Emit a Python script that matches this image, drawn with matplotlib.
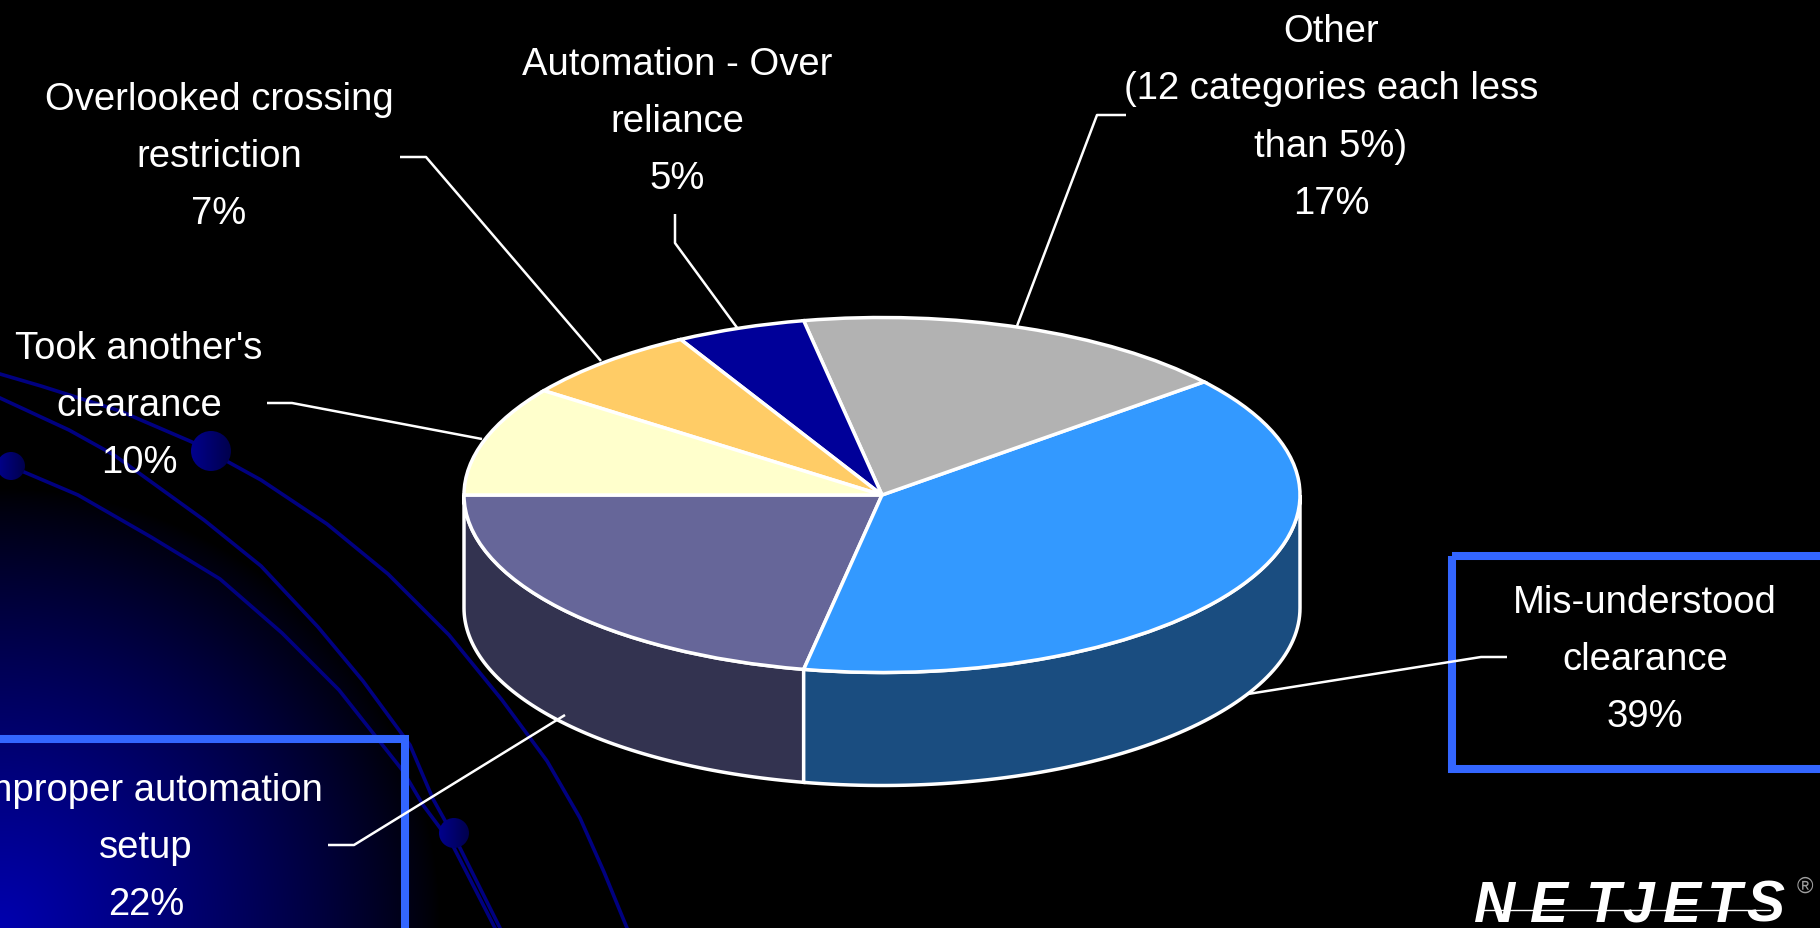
import numpy as np
import matplotlib
matplotlib.use('Agg')
import matplotlib.pyplot as plt
from matplotlib.patches import Circle, Rectangle

W, H = 1820, 929

# slices, counterclockwise starting from the left of the pie
labels = ['Improper automation\nsetup', 'Mis-understood\nclearance',
          'Other\n(12 categories each less\nthan 5%)', 'Automation - Over\nreliance',
          'Overlooked crossing\nrestriction', "Took another's\nclearance"]
values = [22, 39, 17, 5, 7, 10]
top_colors = ['#666699', '#3399FF', '#B2B2B2', '#000099', '#FFCC66', '#FFFFCC']
side_colors = ['#333350', '#1A4D80']

# label centres and leader lines, in pixels
label_pos = [(146, 848), (1645, 660), (1331, 118), (677, 122), (219, 157), (139, 406)]
leaders = [[(328, 846), (354, 846), (565, 716)],
           [(1507, 658), (1481, 658), (1248, 695)],
           [(1126, 116), (1097, 116), (1017, 327)],
           [(675, 215), (675, 244), (738, 330)],
           [(400, 158), (426, 158), (601, 362)],
           [(267, 404), (292, 404), (482, 440)]]

# background orbit lines
orbit_a = [(0, 375), (41, 387), (120, 412), (192, 443), (261, 481), (327, 525), (388, 575),
           (449, 636), (502, 701), (547, 762), (580, 819), (604, 873), (627, 929)]
orbit_b = [(0, 399), (69, 431), (114, 456), (204, 521), (261, 567), (318, 628), (363, 682),
           (410, 746), (433, 800), (458, 845), (500, 929)]
orbit_c = [(24, 473), (78, 496), (151, 538), (220, 580), (282, 634), (339, 691), (403, 772),
           (423, 806), (452, 845), (495, 929)]
dots = [(211, 452, 20), (11, 467, 14), (454, 834, 15)]

plt.rcParams['font.family'] = ['Liberation Sans']

fig = plt.figure(figsize=(W / 100, H / 100), dpi=100, facecolor='black')

# background, pixel coords
bg = fig.add_axes([0, 0, 1, 1])
bg.axis('off')
yy, xx = np.mgrid[0:H, 0:W]
r = np.hypot(xx, yy - H) / 440
fade = np.clip(1 - r, 0, 1) ** 0.8
grad = np.zeros((H, W, 3))
grad[..., 2] = 0.686 * fade
bg.imshow(grad, extent=(0, W, H, 0), aspect='auto', zorder=0)
for orbit in (orbit_a, orbit_b, orbit_c):
    bg.plot(*zip(*orbit), color='#000080', lw=2.6, zorder=1)
for x, y, rad in dots:
    # darker towards the right
    shade = np.linspace(0.55, 0.3, 32).reshape(1, -1, 1) * np.array([0, 0, 1.0])
    im = bg.imshow(shade, extent=(x - rad, x + rad, y + rad, y - rad), aspect='auto', zorder=2)
    im.set_clip_path(Circle((x, y), rad, transform=bg.transData))
bg.set_xlim(0, W)
bg.set_ylim(H, 0)

# pie, ellipse comes from the axes limits
cx, cy, rx, ry, depth = 882, 496, 418, 177.5, 113
ax = fig.add_axes([0, 0, 1, 1], zorder=1)
ax.patch.set_alpha(0)
wedges, _ = ax.pie(values, colors=top_colors, startangle=180, counterclock=True,
                   wedgeprops=dict(edgecolor='white', linewidth=2.5, zorder=3))
ax.set_aspect('auto')
ax.set_xlim(-cx / rx, (W - cx) / rx)
ax.set_ylim(-(H - cy) / ry, cy / ry)
d = depth / ry
for w, c in zip(wedges[:2], side_colors):
    t = np.radians(np.linspace(w.theta1, min(w.theta2, 360), 80))
    xs = np.cos(t)
    ys = np.sin(t)
    ax.fill(np.r_[xs, xs[::-1]], np.r_[ys, ys[::-1] - d], facecolor=c, edgecolor='white',
            lw=2.5, zorder=2)

# text, leaders, boxes, pixel coords
top = fig.add_axes([0, 0, 1, 1], zorder=2)
top.patch.set_alpha(0)
top.set_xlim(0, W)
top.set_ylim(H, 0)
top.axis('off')
for line in leaders:
    top.plot(*zip(*line), color='white', lw=1.8, solid_capstyle='butt')
for lab, val, (x, y) in zip(labels, values, label_pos):
    top.text(x, y, f'{lab}\n{val}%', color='white', ha='center', va='center', fontsize=27.5,
             linespacing=1.76)
top.add_patch(Rectangle((-20, 740), 425, 240, fill=False, ec='#3366FF', lw=5.8, joinstyle='miter'))
top.add_patch(Rectangle((1452, 557), 420, 213, fill=False, ec='#3366FF', lw=5.8, joinstyle='miter'))

# logo
logo_x = [1495, 1549, 1603, 1638, 1682, 1724, 1765]
for ch, x in zip('NETJETS', logo_x):
    top.text(x, 922, ch, color='white', ha='center', va='baseline', fontsize=41, fontweight='bold',
             fontstyle='italic', family=['Liberation Sans'])
top.plot([1483, 1770], [911, 911], color='black', lw=3.5)
top.plot([1483, 1770], [911, 911], color='white', lw=1)
top.text(1805, 887, '®', color='#A0A0A0', ha='center', va='center', fontsize=16,
         family=['Liberation Sans'])

fig.savefig('out.png', dpi=100, facecolor='black')
